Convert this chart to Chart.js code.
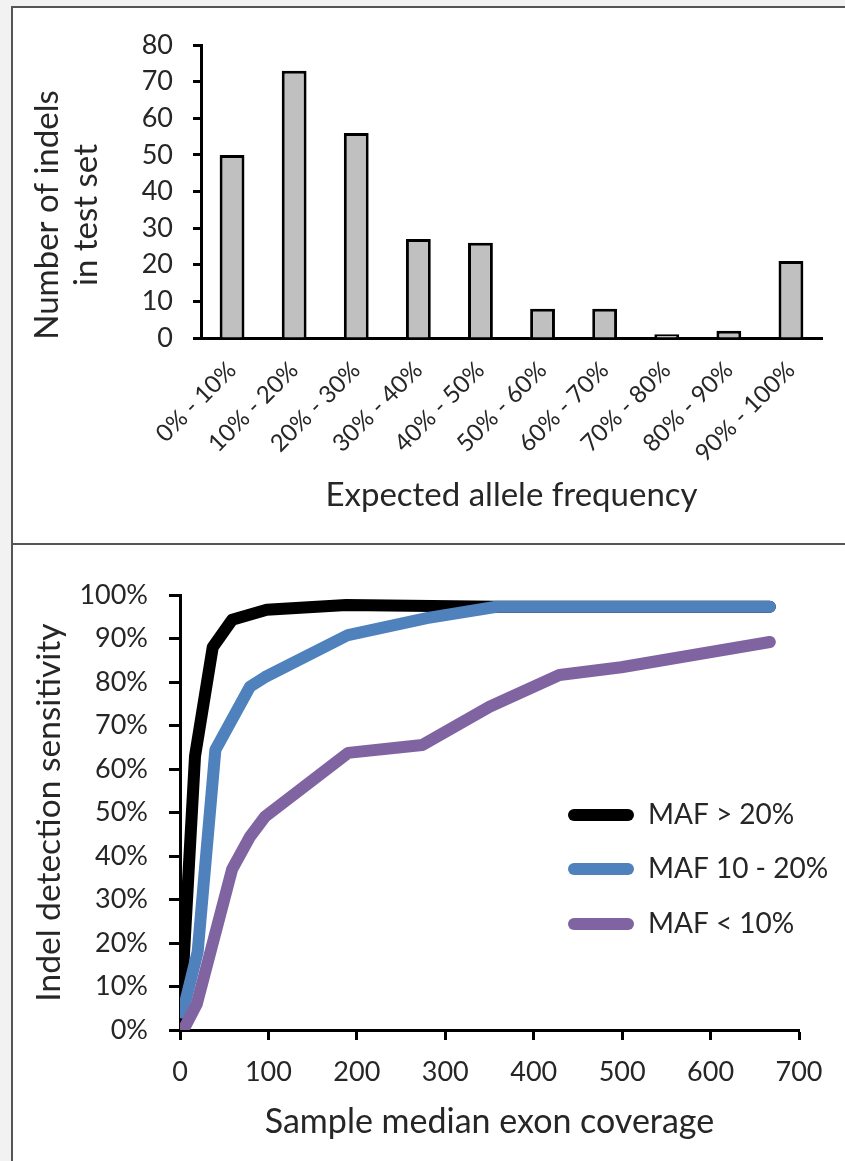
<!DOCTYPE html>
<html>
<head>
<meta charset="UTF-8">
<title>Indel test set</title>
<script src="https://cdn.jsdelivr.net/npm/chart.js@4.4.1/dist/chart.umd.min.js"></script>
<style>
    body {
        margin: 0;
        background: #f2f2f2;
        width: 845px;
        height: 1161px;
        overflow: hidden;
        position: relative;
    }
    .panel {
        position: absolute;
        left: 11px;
        top: 6px;
        width: 900px;
        height: 1200px;
        background: #ffffff;
        border-left: 2px solid #555555;
        border-top: 2px solid #555555;
    }
    .divider {
        position: absolute;
        left: 11px;
        top: 543px;
        width: 900px;
        height: 2px;
        background: #555555;
    }
    canvas {
        position: absolute;
        left: 0;
    }
    #topChart { top: 0; }
    #bottomChart { top: 545px; }
</style>
</head>
<body>

<div class="panel"></div>
<div class="divider"></div>
<canvas id="topChart" width="845" height="544"></canvas>
<canvas id="bottomChart" width="845" height="616"></canvas>

<script>
// ---- top panel: histogram ----
var afLabels = ['0% - 10%', '10% - 20%', '20% - 30%', '30% - 40%', '40% - 50%',
                '50% - 60%', '60% - 70%', '70% - 80%', '80% - 90%', '90% - 100%'];
var indelCounts = [50, 73, 56, 27, 26, 8, 8, 1, 2, 21];

// ---- bottom panel: sensitivity vs coverage ----
var mafHighX = [0, 17, 37, 59, 98, 188, 358, 667];
var mafHighY = [1, 63, 88, 94.3, 96.6, 97.7, 97.3, 97.3];

var mafMidX = [3, 20, 40, 79, 96, 190, 279, 358, 667];
var mafMidY = [4, 18, 64.4, 78.9, 81.1, 90.8, 94.7, 97.3, 97.3];

var mafLowX = [0, 5, 19, 59, 79, 96, 190, 274, 350, 429, 499, 667];
var mafLowY = [0, 0.5, 6, 37, 44.4, 49, 63.7, 65.5, 74.3, 81.6, 83.4, 89.2];

var seriesNames = ['MAF > 20%', 'MAF 10 - 20%', 'MAF < 10%'];
var seriesColors = ['#000000', '#4f81bd', '#8064a2'];

var FONT = 'Lato';
var TXT = '#262626';

function pairs(xs, ys) {
    var out = [];
    for (var i = 0; i < xs.length; i++) out.push({x: xs[i], y: ys[i]});
    return out;
}

// rotated two line title of the histogram
var histYTitle = {
    id: 'histYTitle',
    afterDraw: function(chart) {
        var ctx = chart.ctx;
        ctx.save();
        ctx.fillStyle = TXT;
        ctx.font = '33px ' + FONT;
        ctx.textAlign = 'center';
        ctx.textBaseline = 'middle';
        ctx.translate(47, 215);
        ctx.rotate(-Math.PI / 2);
        ctx.fillText('Number of indels', 0, 0);
        ctx.fillText('in test set', 0, 39);
        ctx.restore();
    }
};

// legend drawn inside the plot, lines + labels
var lineLegend = {
    id: 'lineLegend',
    afterDraw: function(chart) {
        var ctx = chart.ctx;
        var rows = [270, 324, 379];
        ctx.save();
        chart.data.datasets.forEach(function(ds, i) {
            ctx.strokeStyle = ds.borderColor;
            ctx.lineWidth = 12;
            ctx.lineCap = 'round';
            ctx.beginPath();
            ctx.moveTo(574, rows[i]);
            ctx.lineTo(628, rows[i]);
            ctx.stroke();
            ctx.fillStyle = TXT;
            ctx.font = '28px ' + FONT;
            ctx.textAlign = 'left';
            ctx.textBaseline = 'middle';
            ctx.fillText(ds.label, 648, rows[i]);
        });
        ctx.restore();
    }
};

Chart.defaults.font.family = FONT;
Chart.defaults.color = TXT;
Chart.defaults.animation = false;

new Chart(document.getElementById('topChart'), {
    type: 'bar',
    data: {
        labels: afLabels,
        datasets: [{
            data: indelCounts,
            backgroundColor: '#c0c0c0',
            borderColor: '#000000',
            borderWidth: 3,
            barPercentage: 0.4,
            categoryPercentage: 1.0
        }]
    },
    options: {
        responsive: false,
        layout: { padding: { left: 0, top: 45, right: 23, bottom: 0 } },
        plugins: { legend: { display: false }, tooltip: { enabled: false } },
        scales: {
            x: {
                afterFit: function(s) { s.height = 206; },
                grid: { display: false, drawTicks: false },
                border: { display: true, color: '#000000', width: 3 },
                ticks: { font: { size: 24 }, minRotation: 45, maxRotation: 45, padding: 18, color: TXT },
                title: {
                    display: true,
                    text: 'Expected allele frequency',
                    font: { size: 33 },
                    padding: { top: 0, bottom: 29 },
                    color: TXT
                }
            },
            y: {
                min: 0,
                max: 80,
                afterFit: function(s) { s.width = 201; },
                grid: { drawOnChartArea: false, drawTicks: true, tickLength: 8, tickWidth: 3, tickColor: '#000000' },
                border: { display: true, color: '#000000', width: 3 },
                ticks: { stepSize: 10, font: { size: 27 }, padding: 20, color: TXT }
            }
        }
    },
    plugins: [histYTitle]
});

new Chart(document.getElementById('bottomChart'), {
    type: 'line',
    data: {
        datasets: [
            { label: seriesNames[0], data: pairs(mafHighX, mafHighY), borderColor: seriesColors[0], order: 2 },
            { label: seriesNames[1], data: pairs(mafMidX, mafMidY), borderColor: seriesColors[1], order: 1 },
            { label: seriesNames[2], data: pairs(mafLowX, mafLowY), borderColor: seriesColors[2], order: 0 }
        ]
    },
    options: {
        responsive: false,
        layout: { padding: { left: 0, top: 50, right: 46, bottom: 0 } },
        elements: {
            line: { borderWidth: 12, borderJoinStyle: 'round', borderCapStyle: 'round', tension: 0, fill: false },
            point: { radius: 0 }
        },
        plugins: { legend: { display: false }, tooltip: { enabled: false } },
        scales: {
            x: {
                type: 'linear',
                min: 0,
                max: 700,
                afterFit: function(s) { s.height = 131; },
                grid: { drawOnChartArea: false, drawTicks: true, tickLength: 10, tickWidth: 3, tickColor: '#000000' },
                border: { display: true, color: '#000000', width: 3 },
                ticks: { stepSize: 100, font: { size: 27 }, padding: 16, color: TXT },
                title: {
                    display: true,
                    text: 'Sample median exon coverage',
                    font: { size: 34 },
                    padding: { top: 0, bottom: 19 },
                    color: TXT
                }
            },
            y: {
                min: 0,
                max: 100,
                afterFit: function(s) { s.width = 180; },
                grid: { drawOnChartArea: false, drawTicks: true, tickLength: 11, tickWidth: 3, tickColor: '#000000' },
                border: { display: true, color: '#000000', width: 3 },
                ticks: {
                    stepSize: 10,
                    font: { size: 27 },
                    padding: 21,
                    color: TXT,
                    callback: function(v) { return v + '%'; }
                },
                title: {
                    display: true,
                    text: 'Indel detection sensitivity',
                    font: { size: 33.5 },
                    padding: { top: 29, bottom: 0 },
                    color: TXT
                }
            }
        }
    },
    plugins: [lineLegend]
});
</script>
</body>
</html>
